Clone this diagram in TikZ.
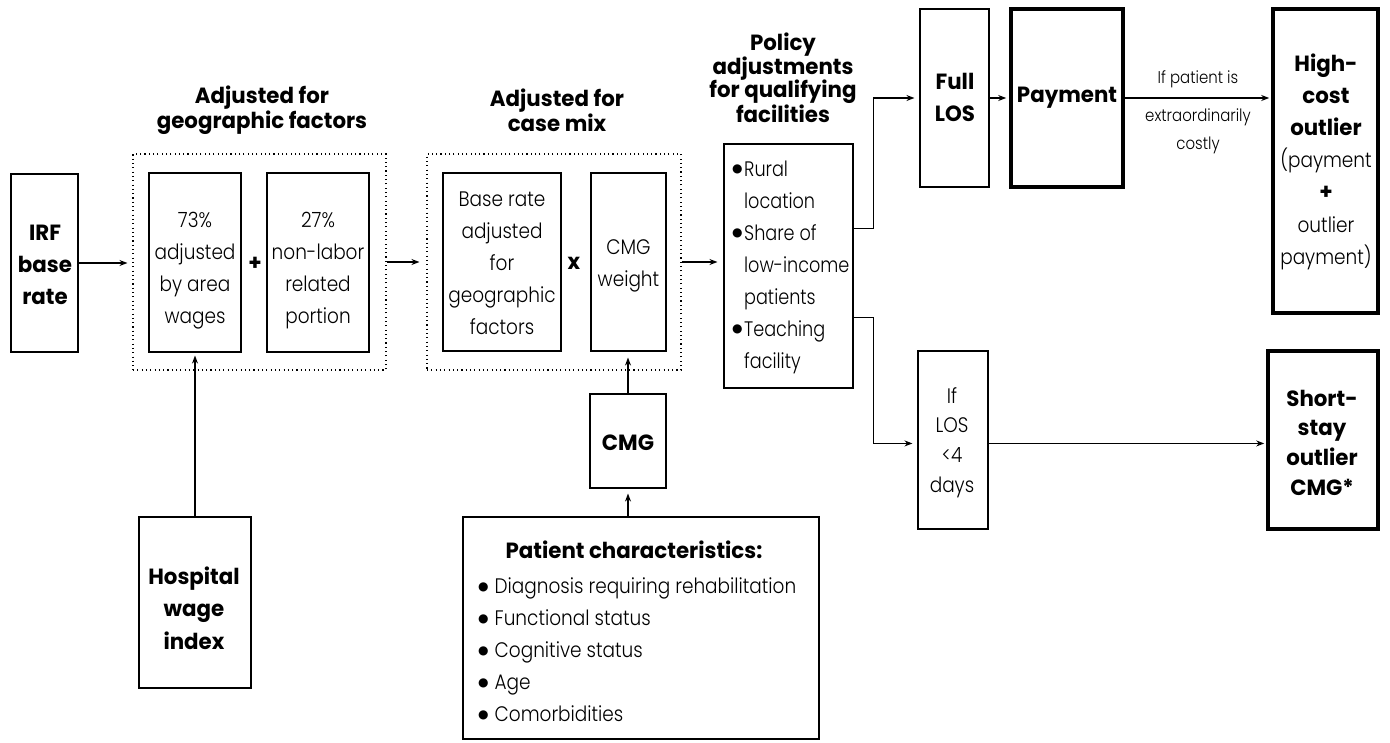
\documentclass[tikz,border=0pt]{standalone}
\usepackage{fontspec}
\setmainfont{Poppins}
\newfontfamily\lt{Poppins Light}[FakeStretch=0.88]
\newfontfamily\ltn{Poppins Light}[FakeStretch=0.84]
\newfontfamily\bd{Poppins Bold}[FakeStretch=0.97]
\newfontfamily\dv{DejaVu Sans}
\newcommand{\bul}{\raisebox{3.6pt}{\dv\fontsize{12}{12}\selectfont ●}}
\usetikzlibrary{arrows.meta,fit,calc}
\begin{document}
\begin{tikzpicture}[x=1pt,y=-1pt,
  box/.style={draw, line width=1.1pt, inner sep=0pt},
  tbox/.style={draw, line width=3.6pt, inner sep=0pt},
  dbox/.style={draw, line width=1.1pt, inner sep=0pt, dash pattern=on 1.1pt off 3.2pt},
  txt/.style={inner sep=0pt, align=center, font=\lt\fontsize{21}{32}\selectfont},
  btxt/.style={inner sep=0pt, align=center, font=\bd\fontsize{22}{32}\selectfont},
  ttl/.style={inner sep=0pt, align=center, font=\bd\fontsize{22}{25}\selectfont},
  lbl/.style={inner sep=0pt, align=center, font=\lt\fontsize{17}{28}\selectfont},
  arr/.style={line width=1.1pt, -{Stealth[length=8pt,width=6pt]}},
  ln/.style={line width=1.1pt}]
\useasboundingbox (0,0) rectangle (1390,742);

% boxes
\node[box, fit={(11,174) (78,352)}] (irf) {};
\node[btxt] (irft) at (45,264.5) {IRF\\base\\rate};

\node[ttl] (t1) at (262,110.5) {Adjusted for\\geographic factors};
\node[dbox, fit={(133,154) (386,370)}] (geo) {};
\node[box, fit={(149,173) (241,352)}] (a1) {};
\node[txt] (a1t) at (195,270.5) {73\%\\adjusted\\by area\\wages};
\node[btxt] (plus) at (255,264) {+};
\node[box, fit={(267,173) (369,352)}] (a2) {};
\node[txt] (a2t) at (318,270.5) {27\%\\non-labor\\related\\portion};

\node[ttl] (t2) at (557,110) {Adjusted for\\case mix};
\node[dbox, fit={(427,154) (681,370)}] (mix) {};
\node[box, fit={(443,173) (561,351)}] (b1) {};
\node[txt] (b1t) at (502,263.5) {Base rate\\adjusted\\for\\geographic\\factors};
\node[btxt] (times) at (574,263) {x};
\node[box, fit={(591,173) (666,351)}] (b2) {};
\node[txt] (b2t) at (628.5,266) {CMG\\weight};

\node[ttl, font=\bd\fontsize{22}{23.5}\selectfont] (t3) at (783,78) {Policy\\adjustments\\for qualifying\\facilities};
\node[box, fit={(724,144) (853,388)}] (pol) {};
\node[inner sep=0pt, anchor=west, font=\ltn\fontsize{21}{32}\selectfont] (polt) at (732,266)
  {\begin{tabular}{@{}l@{\hspace{1.5pt}}l@{}}\bul & Rural\\ & location\\ \bul & Share of\\ & low-income\\ & patients\\ \bul & Teaching\\ & facility\end{tabular}};

\node[box, fit={(920,9) (989,187)}] (full) {};
\node[btxt] (fullt) at (955,97.5) {Full\\LOS};
\node[tbox, fit={(1011,9) (1123,187)}] (pay) {};
\node[btxt] (payt) at (1067,98) {Payment};
\node[tbox, fit={(1273,9) (1378,313)}] (high) {};
\node[btxt, font=\bd\fontsize{22}{32.2}\selectfont] (hight) at (1326,161.5)
  {High-\\cost\\outlier\\{\lt\fontsize{21}{32.2}\selectfont (payment}\\+\\{\lt\fontsize{21}{32.2}\selectfont outlier}\\{\lt\fontsize{21}{32.2}\selectfont payment)}};

\node[box, fit={(918,351) (988,529)}] (iflos) {};
\node[txt, font=\lt\fontsize{21}{29.7}\selectfont] (iflost) at (952,442.5) {If\\LOS\\<4\\days};
\node[tbox, fit={(1268,351) (1378,529)}] (short) {};
\node[btxt, font=\bd\fontsize{22}{29.7}\selectfont] (shortt) at (1322,442.5) {Short-\\stay\\outlier\\CMG*};

\node[box, fit={(139,517) (251,688)}] (hosp) {};
\node[btxt, font=\bd\fontsize{22}{32.5}\selectfont] (hospt) at (194,608) {Hospital\\wage\\index};

\node[box, fit={(590,394) (666,488)}] (cmg) {};
\node[btxt] (cmgt) at (628,443) {CMG};

\node[box, fit={(463,517) (819,739)}] (pat) {};
\node[btxt] (patt) at (634,550) {Patient characteristics:};
\node[inner sep=0pt, anchor=west, font=\lt\fontsize{21}{32}\selectfont] (patl) at (478,651.5)
  {\begin{tabular}{@{}l@{\hspace{6pt}}l@{}}\bul & Diagnosis requiring rehabilitation\\ \bul & Functional status\\ \bul & Cognitive status\\ \bul & Age\\ \bul & Comorbidities\end{tabular}};

% connectors
\draw[arr, shorten >=5pt] (irf.east) -- (irf.east -| geo.west);
\draw[arr, shorten >=7pt] (geo.east) -- (geo.east -| mix.west);
\draw[arr, shorten >=6pt] (mix.east) -- (mix.east -| pol.west);
\draw[arr, shorten >=3pt] (hosp.north) -- (hosp.north |- a1.south);
\draw[arr, shorten >=6pt] (cmg.north) -- (cmg.north |- b2.south);
\draw[arr, shorten >=5pt] (cmg.south |- pat.north) -- (cmg.south);
\draw[arr, shorten >=5pt] ([yshift=-85pt]pol.north east) -- ++(20,0) |- (full.west);
\draw[arr, shorten >=5pt] ([yshift=-174pt]pol.north east) -- ++(20,0) |- ([yshift=-93pt]iflos.north west);
\draw[arr, shorten >=3pt] (full.east) -- (pay.west);
\draw[arr, shorten >=2pt] (pay.east) -- node[lbl, yshift=19pt] (l1) {If patient is}
   node[lbl, yshift=-33pt] (l2) {extraordinarily\\costly} (pay.east -| high.west);
\draw[arr, shorten >=2pt] ([yshift=-93pt]iflos.north east) -- ([yshift=-93pt]iflos.north east -| short.west);
\end{tikzpicture}
\end{document}
